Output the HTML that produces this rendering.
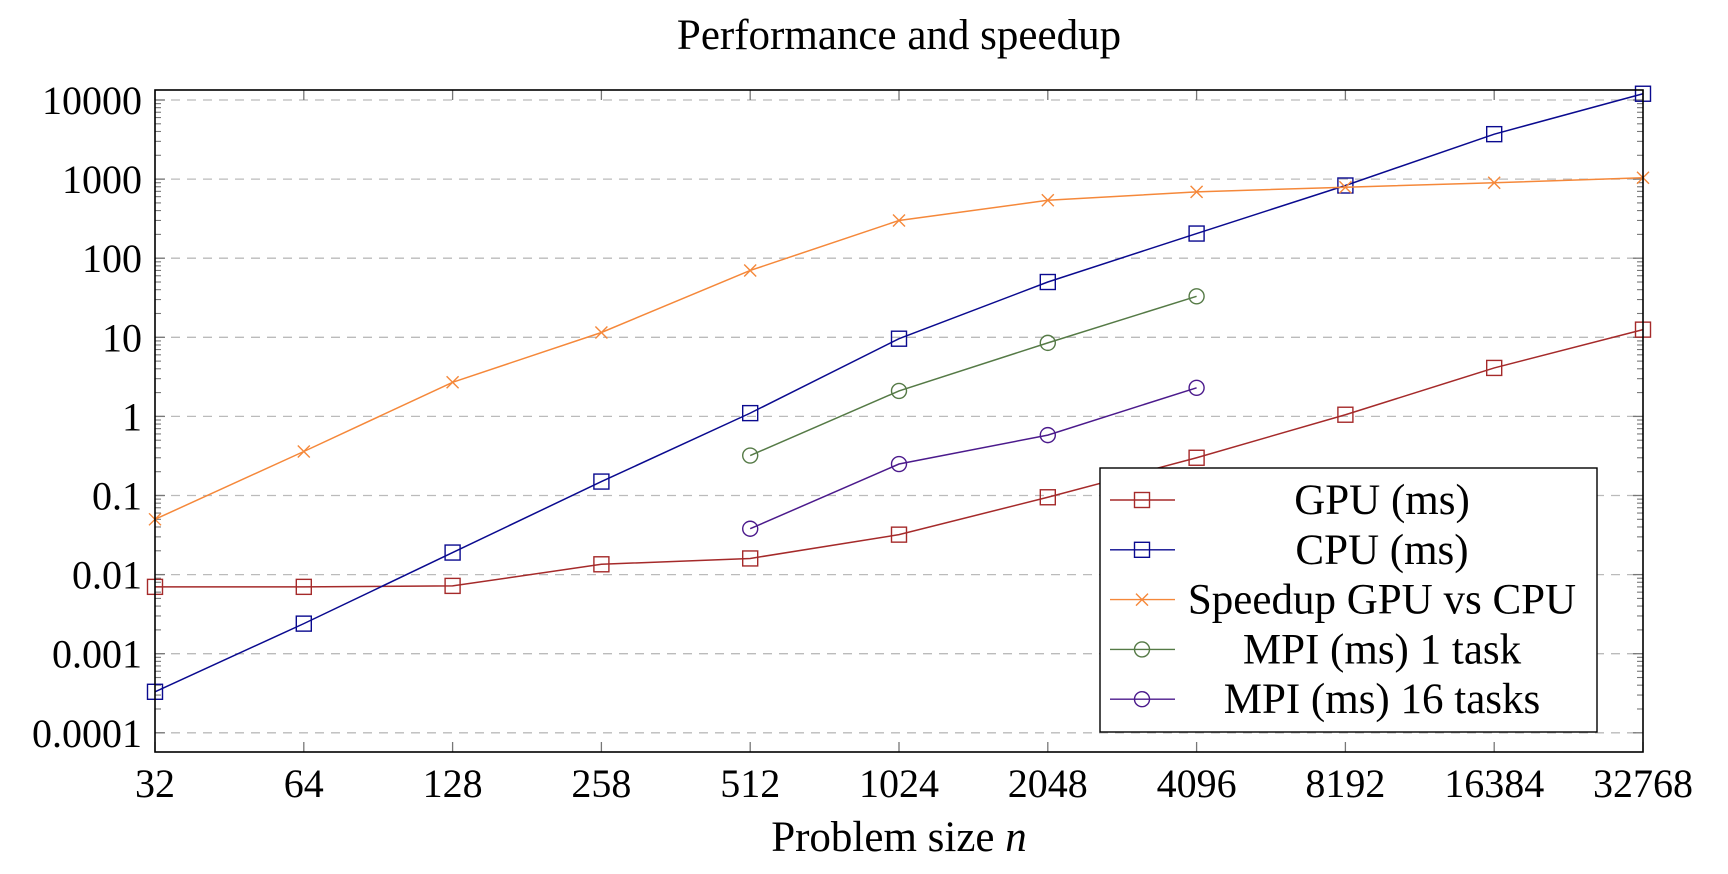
<!DOCTYPE html>
<html><head><meta charset="utf-8"><style>
body{margin:0;background:#fff;}
svg{display:block;font-family:"Liberation Serif",serif;}
</style></head><body>
<svg id="chart" width="1728" height="874" viewBox="0 0 1728 874" xmlns="http://www.w3.org/2000/svg">
<text x="899" y="49" font-size="43" text-anchor="middle">Performance and speedup</text>
<text x="899" y="851" font-size="43" text-anchor="middle">Problem size <tspan font-style="italic">n</tspan></text>
<g id="grid"></g><g id="ticks"></g><g id="series"></g>
<rect x="155" y="90" width="1488" height="662" fill="none" stroke="#000" stroke-width="1.6"/>
<g id="legend"></g>
</svg>
<script>
const categories=["32","64","128","258","512","1024","2048","4096","8192","16384","32768"];
const yTickLabels=["10000","1000","100","10","1","0.1","0.01","0.001","0.0001"];
const gpu=[0.007,0.007,0.0072,0.0135,0.016,0.032,0.095,0.3,1.05,4.1,12.5];
const cpu=[0.00033,0.0024,0.019,0.15,1.1,9.6,50,205,830,3700,12000];
const speedup=[0.05,0.36,2.7,11.5,70,300,540,690,790,900,1040];
const mpi1=[null,null,null,null,0.32,2.1,8.5,33,null,null,null];
const mpi16=[null,null,null,null,0.038,0.25,0.58,2.3,null,null,null];
const seriesNames=["GPU (ms)","CPU (ms)","Speedup GPU vs CPU","MPI (ms) 1 task","MPI (ms) 16 tasks"];

const NS="http://www.w3.org/2000/svg";
const L=155,R=1643,T=90,B=752;
function xs(i){return L+i*(R-L)/(categories.length-1);}
function ys(v){return 100+(4-Math.log10(v))*79.1;}
function mk(tag,attrs,parent){const e=document.createElementNS(NS,tag);for(const k in attrs)e.setAttribute(k,attrs[k]);parent.appendChild(e);return e;}
const grid=document.getElementById('grid'),ticks=document.getElementById('ticks'),ser=document.getElementById('series'),leg=document.getElementById('legend');

yTickLabels.forEach(lbl=>{
  const v=parseFloat(lbl),y=ys(v);
  const g=mk('line',{x1:L,x2:R,y1:y,y2:y,stroke:'#bbb','stroke-width':1.3,'stroke-dasharray':'9 7'},grid);
  
  
  const t=mk('text',{x:142,y:y+14,'font-size':40,'text-anchor':'end'},ticks);
  t.textContent=lbl;
  
  
  mk('line',{x1:L,x2:L+10,y1:y,y2:y,stroke:'#777','stroke-width':1.3},ticks);
  mk('line',{x1:R-10,x2:R,y1:y,y2:y,stroke:'#777','stroke-width':1.3},ticks);
  if(v<10000){for(let m=2;m<=9;m++){const ym=ys(v*m);mk('line',{x1:L,x2:L+6,y1:ym,y2:ym,stroke:'#777','stroke-width':1.1},ticks);mk('line',{x1:R-6,x2:R,y1:ym,y2:ym,stroke:'#777','stroke-width':1.1},ticks);}}
});
categories.forEach((c,i)=>{
  const x=xs(i);
  mk('line',{x1:x,x2:x,y1:B,y2:B-10,stroke:'#777','stroke-width':1.3},ticks);
  mk('line',{x1:x,x2:x,y1:T,y2:T+10,stroke:'#777','stroke-width':1.3},ticks);
  const t=mk('text',{x:x,y:797,'font-size':40,'text-anchor':'middle'},ticks);
  t.textContent=c;
  
  
});

function marker(type,x,y,color,parent){
  if(type==='sq')return mk('rect',{x:x-7.5,y:y-7.5,width:15,height:15,fill:'none',stroke:color,'stroke-width':1.4},parent);
  if(type==='ci')return mk('circle',{cx:x,cy:y,r:7.5,fill:'none',stroke:color,'stroke-width':1.4},parent);
  return mk('path',{d:`M${x-6} ${y-6}L${x+6} ${y+6}M${x-6} ${y+6}L${x+6} ${y-6}`,stroke:color,'stroke-width':1.4},parent);
}
const allSeries=[[gpu,'#a52a2a','sq','gpu-series'],[cpu,'#0a0a8f','sq','cpu-series'],[speedup,'#f5883a','x','speedup-series'],[mpi1,'#557a46','ci','mpi-1-task-series'],[mpi16,'#4b1a8c','ci','mpi-16-tasks-series']];
allSeries.forEach(([data,col,m,name])=>{
  const g=mk('g',{},ser);
  
  
  const pts=[];data.forEach((v,i)=>{if(v!=null)pts.push([xs(i),ys(v)]);});
  mk('polyline',{points:pts.map(p=>p.join(',')).join(' '),fill:'none',stroke:col,'stroke-width':1.5},g);
  pts.forEach(p=>{const e=marker(m,p[0],p[1],col,g);});
});

mk('rect',{x:1100,y:468,width:497,height:264,fill:'#fff',stroke:'#000','stroke-width':1.4},leg);
seriesNames.forEach((n,i)=>{
  const y=500+i*49.8,[_,col,m]=allSeries[i];
  const g=mk('g',{},leg);
  
  
  mk('line',{x1:1110,x2:1175,y1:y,y2:y,stroke:col,'stroke-width':1.4},g);
  marker(m,1142,y,col,g);
  const t=mk('text',{x:1382,y:y+14,'font-size':43,'text-anchor':'middle'},g);
  t.textContent=n;
});
</script>
</body></html>
